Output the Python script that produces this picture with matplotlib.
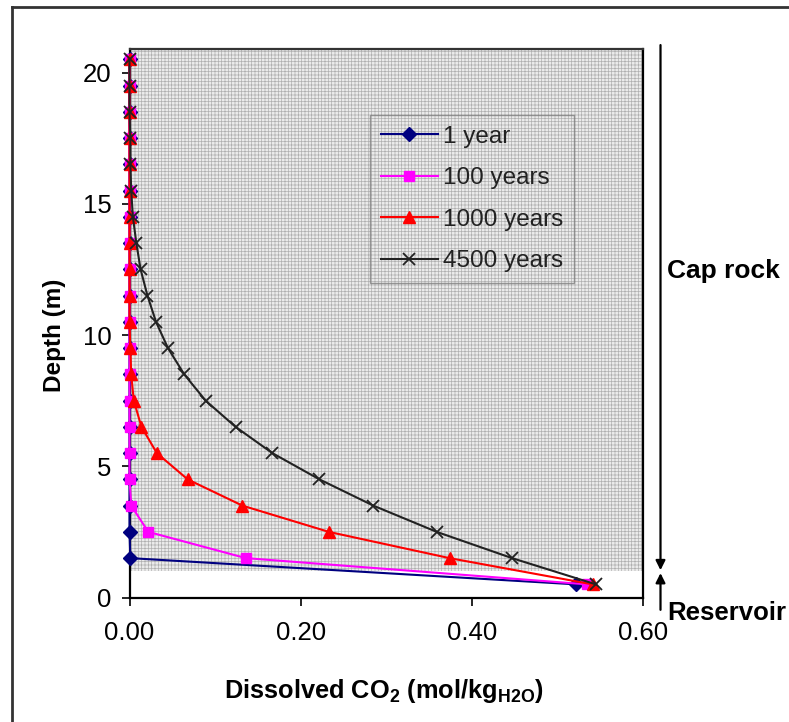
import matplotlib
matplotlib.use("Agg")
import matplotlib.pyplot as plt
from matplotlib.patches import Rectangle
from matplotlib.lines import Line2D

plt.rcParams['font.family'] = ['Liberation Sans', 'DejaVu Sans']
plt.rcParams['mathtext.fontset'] = 'custom'
plt.rcParams['mathtext.rm'] = 'Liberation Sans'
plt.rcParams['mathtext.bf'] = 'Liberation Sans:bold'
plt.rcParams['hatch.linewidth'] = 0.5
plt.rcParams['hatch.color'] = '#b0b0b0'

# ---- data ----
depth = [0.5, 1.5, 2.5, 3.5, 4.5, 5.5, 6.5, 7.5, 8.5, 9.5, 10.5,
         11.5, 12.5, 13.5, 14.5, 15.5, 16.5, 17.5, 18.5, 19.5, 20.5]
series_labels = ['1 year', '100 years', '1000 years', '4500 years']
co2_1yr = [0.522, 0.001, 0.0, 0.0, 0.0, 0.0, 0.0, 0.0, 0.0, 0.0, 0.0,
           0.0, 0.0, 0.0, 0.0, 0.0, 0.0, 0.0, 0.0, 0.0, 0.0]
co2_100yr = [0.535, 0.136, 0.022, 0.002, 0.0, 0.0, 0.0, 0.0, 0.0, 0.0, 0.0,
             0.0, 0.0, 0.0, 0.0, 0.0, 0.0, 0.0, 0.0, 0.0, 0.0]
co2_1000yr = [0.541, 0.374, 0.233, 0.132, 0.068, 0.032, 0.014, 0.005, 0.002, 0.001, 0.0,
              0.0, 0.0, 0.0, 0.0, 0.0, 0.0, 0.0, 0.0, 0.0, 0.0]
co2_4500yr = [0.545, 0.447, 0.359, 0.285, 0.222, 0.167, 0.124, 0.089, 0.064, 0.045, 0.031,
              0.021, 0.013, 0.008, 0.004, 0.002, 0.001, 0.001, 0.0, 0.0, 0.0]
caprock_base = 1.0
x_ticks = [0.0, 0.2, 0.4, 0.6]
y_ticks = [0, 5, 10, 15, 20]

W, H = 789, 722
fig = plt.figure(figsize=(W / 100, H / 100), dpi=100)
ax = fig.add_axes([129.5 / W, 1 - 597.5 / H, (643 - 129.5) / W, (597.5 - 49) / H])

xmin, xmax = 0.0, 0.6
ymin, ymax = 0.0, 20.9
ax.set_xlim(xmin, xmax)
ax.set_ylim(ymin, ymax)

# hatched cap-rock region
ax.add_patch(Rectangle((xmin, caprock_base), xmax - xmin, ymax - caprock_base,
                       facecolor='#ebebeb', edgecolor='#b0b0b0', hatch='+++++',
                       linewidth=0, zorder=0))

styles = [
    dict(color='#000080', marker='D', ms=7, mfc='#000080', mec='#000080'),
    dict(color='#ff00ff', marker='s', ms=7.5, mfc='#ff00ff', mec='#ff00ff'),
    dict(color='#ff0000', marker='^', ms=9, mfc='#ff0000', mec='#ff0000'),
    dict(color='#222222', marker='x', ms=9, mew=1.3),
]
for vals, lab, st in zip([co2_1yr, co2_100yr, co2_1000yr, co2_4500yr], series_labels, styles):
    ax.plot(vals, depth, lw=1.5, label=lab, clip_on=False, zorder=3, **st)

ax.set_xticks(x_ticks)
ax.set_xticklabels([f'{v:.2f}' for v in x_ticks])
ax.set_yticks(y_ticks)
ax.tick_params(axis='both', direction='out', length=6, width=1.2, labelsize=18.5)
ax.tick_params(axis='x', pad=11)
ax.tick_params(axis='y', pad=7)
for sp in ax.spines.values():
    sp.set_linewidth(1.6)
    sp.set_color('black')
ax.spines['top'].set_color('#333333')

leg = ax.legend(loc='upper left', bbox_to_anchor=((370 - 129.5) / 513.5, (597.5 - 115) / 548.5),
                frameon=True, fancybox=False, fontsize=17.5, handlelength=2.35,
                handletextpad=0.2, labelspacing=0.8, borderpad=0.45, borderaxespad=0)
leg.get_frame().set_facecolor('none')
leg.get_frame().set_edgecolor('#808080')
leg.get_frame().set_linewidth(1.0)
for t in leg.get_texts():
    t.set_color('#222222')

# axis labels
fig.text(384 / W, 1 - 691 / H, r'Dissolved CO$_{\mathbf{2}}$ (mol/kg$_{\mathbf{H2O}}$)',
         ha='center', va='center', fontsize=18.3, fontweight='bold')
fig.text(55 / W, 1 - 335 / H, 'Depth (m)', rotation=90, ha='center', va='center',
         fontsize=17.5, fontweight='bold')

# right-side annotations
tr = ax.get_yaxis_transform()
ax_x = (660.5 - 129.5) / 513.5
ax.annotate('', xy=(ax_x, 1.04), xytext=(ax_x, 21.05), xycoords=tr, textcoords=tr,
            annotation_clip=False,
            arrowprops=dict(arrowstyle='-|>', color='black', lw=1.6, mutation_scale=14,
                            shrinkA=0, shrinkB=0))
ax.annotate('', xy=(ax_x, 0.93), xytext=(ax_x, -0.47), xycoords=tr, textcoords=tr,
            annotation_clip=False,
            arrowprops=dict(arrowstyle='-|>', color='black', lw=1.6, mutation_scale=14,
                            shrinkA=0, shrinkB=0))
tx = (667 - 129.5) / 513.5
ax.text(tx, 12.45, 'Cap rock', transform=tr, ha='left', va='center',
        fontsize=19, fontweight='bold', clip_on=False)
ax.text(tx, -0.6, 'Reservoir', transform=tr, ha='left', va='center',
        fontsize=18.5, fontweight='bold', clip_on=False)

# chart-area border (left and top edges visible)
fig.add_artist(Line2D([11.5 / W, 11.5 / W], [0, 1 - 6.5 / H], color='#333333', lw=2.0))
fig.add_artist(Line2D([11.5 / W, 1], [1 - 6.5 / H, 1 - 6.5 / H], color='#333333', lw=2.0))

fig.savefig('out.png', dpi=100)
